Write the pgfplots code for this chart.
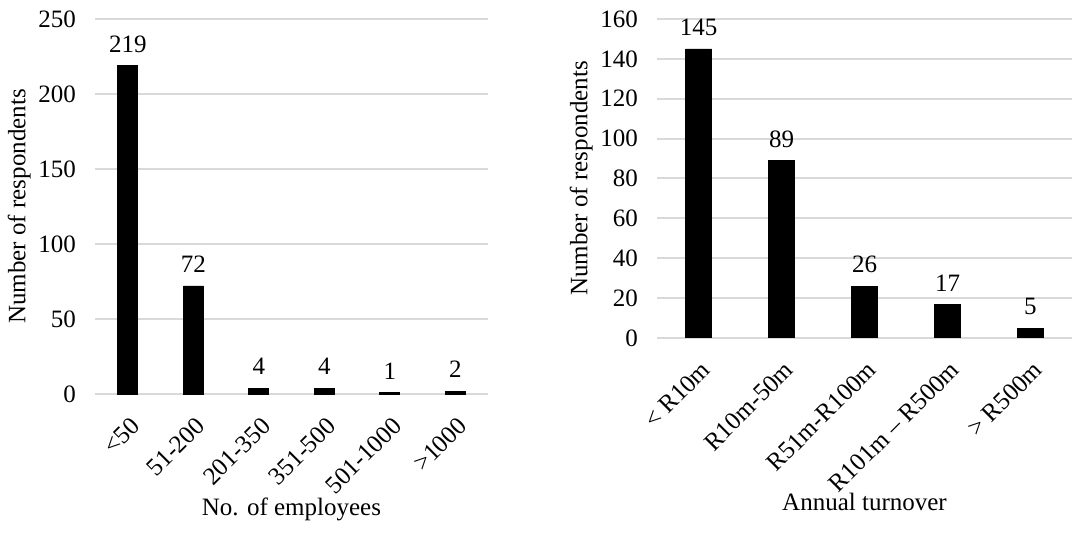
\documentclass[border=0pt]{standalone}
\usepackage{fontspec}
\setmainfont{Liberation Serif}
\usepackage{pgfplots}
\pgfplotsset{compat=1.18}
\definecolor{gridgray}{HTML}{D9D9D9}
\begin{document}
\begin{tikzpicture}
\useasboundingbox (0,0) rectangle (536pt,270.5pt);
\pgfplotsset{
  /pgf/number format/assume math mode=true,
  every axis/.append style={
    font=\fontsize{12.5}{14}\selectfont,
    scale only axis,
    axis line style={draw=none},
    ymajorgrids,
    grid style={gridgray, line width=1pt},
    major tick length=0pt,
    ybar,
    xtick=data,
    nodes near coords,
    nodes near coords style={font=\fontsize{12.5}{14}\selectfont, yshift=3pt},
    xticklabel style={rotate=45, anchor=north east, inner sep=1pt, yshift=-7pt, xshift=-6pt},
    yticklabel style={xshift=-6pt},
    ylabel style={yshift=-3pt},
    anchor=south west,
  }
}
\begin{axis}[
  at={(47.5pt,73.5pt)},
  width=196.5pt, height=187.5pt,
  xmin=-0.5, xmax=5.5,
  ymin=0, ymax=250,
  ytick={0,50,100,150,200,250},
  bar width=10pt,
  xticklabels={{<50},{51-200},{201-350},{351-500},{501-1000},{>1000}},
  ylabel={Number of respondents},
  xlabel={No. of employees},
  xlabel style={at={(axis description cs:0.5,-0.309)}, anchor=center},
]
\addplot[fill=black, draw=black] coordinates {(0,219) (1,72) (2,4) (3,4) (4,1) (5,2)};
\end{axis}
\begin{axis}[
  at={(328.5pt,101.5pt)},
  width=207.5pt, height=159.5pt,
  xmin=-0.5, xmax=4.5,
  ymin=0, ymax=160,
  ytick={0,20,40,60,80,100,120,140,160},
  bar width=13pt,
  xticklabels={{< R10m},{R10m-50m},{R51m-R100m},{R101m – R500m},{> R500m}},
  ylabel={Number of respondents},
  xlabel={Annual turnover},
  xlabel style={at={(axis description cs:0.5,-0.514)}, anchor=center},
]
\addplot[fill=black, draw=black] coordinates {(0,145) (1,89) (2,26) (3,17) (4,5)};
\end{axis}
\end{tikzpicture}
\end{document}
